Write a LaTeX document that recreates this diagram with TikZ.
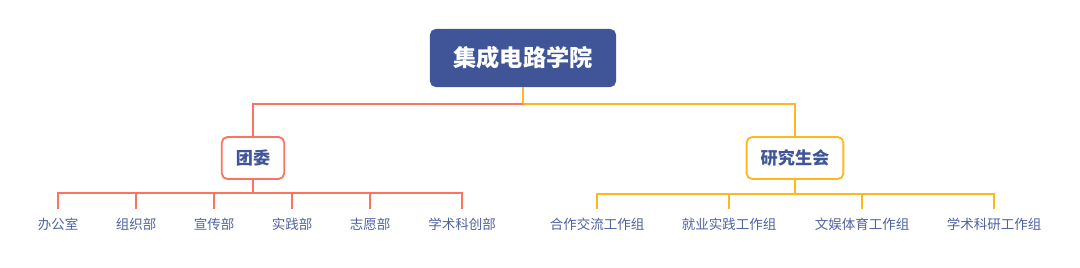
\documentclass[tikz,border=0pt]{standalone}
\usepackage{fontspec}
\setmainfont{Noto Sans CJK SC}
\usetikzlibrary{positioning, calc}
\definecolor{inkblue}{HTML}{3F5597}
\definecolor{inktext}{HTML}{4E62A0}
\definecolor{inkred}{HTML}{FF7262}
\definecolor{inkgold}{HTML}{FFB71E}
\newcommand{\unitbox}[4]{%
  \node[draw=#4, line width=1.3pt, rounded corners=4pt, fill=white,
        minimum height=1.05cm, inner xsep=10pt, text=inkblue,
        font=\bfseries\fontsize{12.2}{14}\selectfont] (#1) at (#2,158) {#3};}
\newcommand{\leaf}[3]{%
  \node[text=inktext, inner sep=0pt, minimum height=0.75cm,
        font=\fontsize{9.6}{11}\selectfont] (#1) at (#2,224) {#3};}

\begin{document}
\begin{tikzpicture}[x=0.025cm, y=-0.025cm, line join=miter,
    rline/.style={inkred, line width=1.8pt},
    gline/.style={inkgold, line width=1.8pt}]
      \useasboundingbox (0,0) rectangle (1080,268);
      \node[fill=inkblue, rounded corners=4pt, minimum width=4.65cm,
            minimum height=1.45cm, text=white,
            font=\bfseries\fontsize{16.5}{19}\selectfont] (root) at (523,58) {集成电路学院};
      \unitbox{tw}{253}{团委}{inkred}
      \unitbox{yjs}{795}{研究生会}{inkgold}
      \coordinate (hub) at (523,104);
      \coordinate (twbar) at (253,193);
      \coordinate (yjsbar) at (795,194);
      \leaf{a1}{58}{办公室}
      \leaf{a2}{136}{组织部}
      \leaf{a3}{214}{宣传部}
      \leaf{a4}{292}{实践部}
      \leaf{a5}{370}{志愿部}
      \leaf{a6}{462}{学术科创部}
      \leaf{b1}{597}{合作交流工作组}
      \leaf{b2}{729}{就业实践工作组}
      \leaf{b3}{862}{文娱体育工作组}
      \leaf{b4}{994}{学术科研工作组}
      \draw[gline] (root) -- (hub) -| (yjs);
      \draw[rline] (hub) -| (tw);
      \draw[rline] (tw) -- (twbar);
      \draw[gline] (yjs) -- (yjsbar);
      \foreach \n in {a1,a2,a3,a4,a5,a6}
        \draw[rline] (twbar) -| (\n.north);
      \foreach \n in {b1,b2,b3,b4}
        \draw[gline] (yjsbar) -| (\n.north);
    \end{tikzpicture}
\end{document}
